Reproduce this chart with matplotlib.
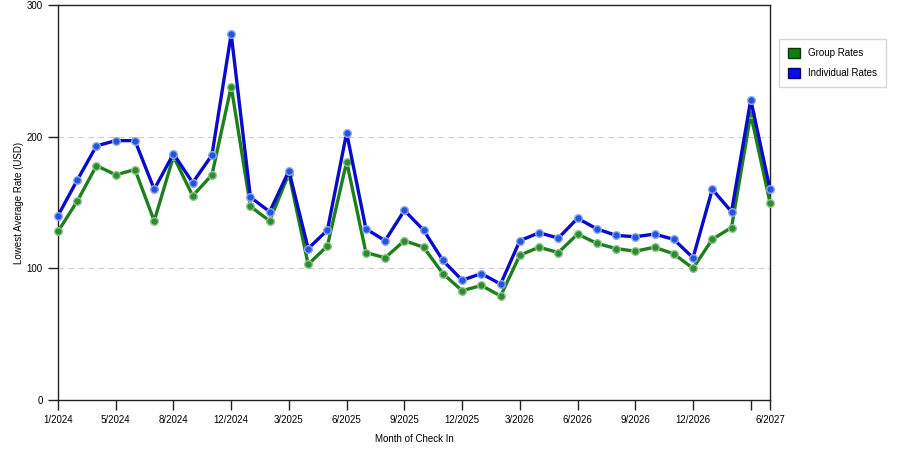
import matplotlib
matplotlib.use("Agg")
import matplotlib.pyplot as plt
from matplotlib.patches import Patch

# --------------------------------------------------------------
# Data
# --------------------------------------------------------------
months = [
    "1/2024", "2/2024", "4/2024", "5/2024", "6/2024", "7/2024", "8/2024",
    "9/2024", "10/2024", "12/2024", "1/2025", "2/2025", "3/2025", "4/2025",
    "5/2025", "6/2025", "7/2025", "8/2025", "9/2025", "10/2025", "11/2025",
    "12/2025", "1/2026", "2/2026", "3/2026", "4/2026", "5/2026", "6/2026",
    "7/2026", "8/2026", "9/2026", "10/2026", "11/2026", "12/2026", "2/2027",
    "4/2027", "5/2027", "6/2027",
]
group_rates = [
    128, 151, 178, 171, 175, 136, 185, 155, 171, 238, 147, 136, 172,
    103, 117, 181, 112, 108, 121, 116, 96, 83, 87, 79, 110, 116, 112,
    126, 119, 115, 113, 116, 111, 100, 122, 131, 217, 150,
]
individual_rates = [
    140, 167, 193, 197, 197, 160, 187, 165, 186, 278, 154, 143, 174,
    115, 129, 203, 130, 121, 144, 129, 106, 91, 96, 88, 121, 127, 123,
    138, 130, 125, 124, 126, 122, 108, 160, 143, 228, 160,
]
tick_idx = [0, 3, 6, 9, 12, 15, 18, 21, 24, 27, 30, 33, 36, 37]
tick_labels = [months[i] if i != 36 else "" for i in tick_idx]

# --------------------------------------------------------------
# Plot
# --------------------------------------------------------------
plt.rcParams["font.family"] = ["Liberation Sans", "DejaVu Sans"]
plt.rcParams["font.size"] = 7

fig = plt.figure(figsize=(9, 4.5), dpi=100)
ax = fig.add_axes([58 / 900, 50 / 450, 712 / 900, 395 / 450])

x = list(range(len(months)))

ax.plot(x, group_rates, color="#1c801c", lw=2.4, marker="o", ms=5.5,
        mfc="#2e8b2e", mec="#8fc48f", mew=1.0, zorder=3, clip_on=False)
ax.plot(x, individual_rates, color="#0a0acc", lw=2.4, marker="o", ms=5.5,
        mfc="#2255dd", mec="#8fa8ee", mew=1.0, zorder=4, clip_on=False)

ax.set_xlim(0, len(months) - 1)
ax.set_ylim(0, 300)
ax.set_yticks([0, 100, 200, 300])
ax.set_xticks(tick_idx)
ax.set_xticklabels(tick_labels)

for yv in [100, 200]:
    ax.axhline(yv, color="#cccccc", lw=0.8, ls=(0, (5, 4)), zorder=1)

for s in ax.spines.values():
    s.set_color("#222222")
    s.set_linewidth(1.0)
ax.tick_params(direction="out", length=7, width=1, color="#222222",
               labelsize=7, pad=4)

ax.set_xlabel("Month of Check In", fontsize=7, labelpad=6)
ax.set_ylabel("Lowest Average Rate (USD)", fontsize=7, labelpad=2)

handles = [
    Patch(facecolor="#0f7f0f", edgecolor="#0a3a0a", label="Group Rates"),
    Patch(facecolor="#0a0aee", edgecolor="#06066a", label="Individual Rates"),
]
fig.legend(handles=handles, loc="upper left",
           bbox_to_anchor=(779 / 900, 1 - 39 / 450), borderaxespad=0,
           fontsize=7, frameon=True, fancybox=False, edgecolor="#cccccc",
           handlelength=1.3, handleheight=1.3, handletextpad=0.8,
           borderpad=0.9, labelspacing=0.95)

fig.savefig("out.png", dpi=100)
